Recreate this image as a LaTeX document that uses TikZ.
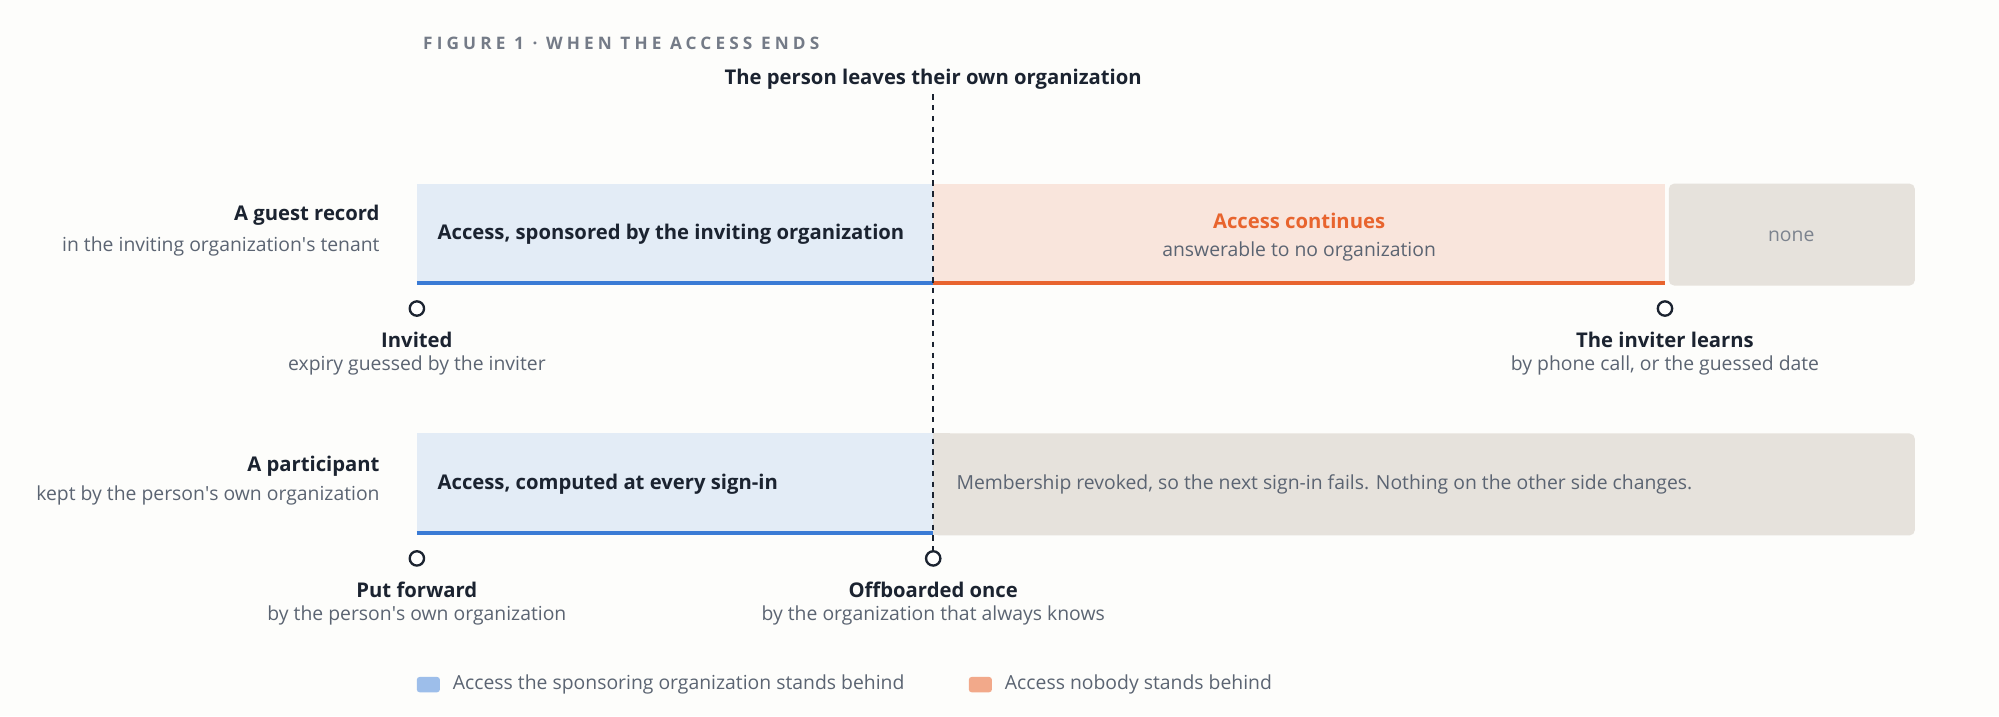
\documentclass[tikz,border=0pt]{standalone}
\usepackage{fontspec}
\setmainfont{Open Sans}
\definecolor{bgpaper}{HTML}{FDFDFB}
\definecolor{ink}{HTML}{1B2330}
\definecolor{subink}{HTML}{5B6472}
\definecolor{sponsorfill}{HTML}{E3ECF6}
\definecolor{sponsorline}{HTML}{3A7BD5}
\definecolor{orphanfill}{HTML}{F9E5DC}
\definecolor{orphanline}{HTML}{E8642E}
\definecolor{nonefill}{HTML}{E6E2DC}
\definecolor{legblue}{HTML}{9DBEEA}
\definecolor{legorange}{HTML}{F2A98A}
\newcommand{\apos}{\textquotesingle}
\begin{document}
\begin{tikzpicture}[x=0.025cm, y=-0.025cm,
        head/.style={font=\fontsize{11.3}{13}\selectfont\bfseries, text=ink, inner sep=0pt},
        sub/.style={font=\fontsize{10.8}{12}\selectfont, text=subink, inner sep=0pt},
        milestone/.style={circle, draw=ink, line width=1.3pt, fill=white, minimum size=8pt, inner sep=0pt}
    ]
        % Hintergrund
        \fill[bgpaper] (0,0) rectangle (1568,562);
        \node[anchor=west, font=\fontsize{9.6}{11}\selectfont\bfseries\addfontfeatures{LetterSpace=24}, text=subink!85] (title) at (327,34) {FIGURE 1 · WHEN THE ACCESS ENDS};

        % Zeile 1
        \fill[sponsorfill] (327,144) rectangle (732,223);
        \draw[sponsorline, line width=2.2pt] (327,222) -- (732,222);
        \fill[orphanfill] (732,144) rectangle (1306,223);
        \draw[orphanline, line width=2.2pt] (732,222) -- (1306,222);
        \fill[nonefill, rounded corners=3pt] (1309,144) rectangle (1502,224);
        \node[head, anchor=west] (guestbar) at (343,184) {Access, sponsored by the inviting organization};
        \node[head, text=orphanline] (cont) at (1019,173) {Access continues};
        \node[sub] (contsub) at (1019,197) {answerable to no organization};
        \node[sub, text=subink!80] (none) at (1405,185) {none};
        \node[head, anchor=east] (guest) at (298,169) {A guest record};
        \node[sub, anchor=east] (guestsub) at (298,193) {in the inviting organization\apos s tenant};

        % Zeile 2
        \fill[sponsorfill] (327,340) rectangle (732,419);
        \draw[sponsorline, line width=2.2pt] (327,418) -- (732,418);
        \fill[nonefill, rounded corners=3pt] (732,340) rectangle (1502,420);
        \fill[nonefill] (732,340) rectangle (745,420);
        \node[head, anchor=west] (partbar) at (343,380) {Access, computed at every sign-in};
        \node[sub, anchor=west] (revoked) at (750,380) {Membership revoked, so the next sign-in fails. Nothing on the other side changes.};
        \node[head, anchor=east] (part) at (298,366) {A participant};
        \node[sub, anchor=east] (partsub) at (298,389) {kept by the person\apos s own organization};

        % Trennlinie
        \coordinate (top) at (732,74);
        \node[milestone] (off) at (732,438) {};
        \draw[ink, dashed, line width=1pt] (top) -- (off);
        \node[head] (leaves) at (732,62) {The person leaves their own organization};

        % Marken
        \node[milestone] (inv) at (327,242) {};
        \node[milestone] (learn) at (1306,242) {};
        \node[milestone] (fwd) at (327,438) {};
        \node[head] (invl) at (327,267) {Invited};
        \node[sub] (invs) at (327,287) {expiry guessed by the inviter};
        \node[head] (learnl) at (1306,267) {The inviter learns};
        \node[sub] (learns) at (1306,287) {by phone call, or the guessed date};
        \node[head] (fwdl) at (327,463) {Put forward};
        \node[sub] (fwds) at (327,483) {by the person\apos s own organization};
        \node[head] (offl) at (732,463) {Offboarded once};
        \node[sub] (offs) at (732,483) {by the organization that always knows};

        % Legende
        \fill[legblue, rounded corners=1.5pt] (327,531) rectangle (345,543);
        \node[sub, anchor=west] (legb) at (355,537) {Access the sponsoring organization stands behind};
        \fill[legorange, rounded corners=1.5pt] (760,531) rectangle (778,543);
        \node[sub, anchor=west] (lego) at (788,537) {Access nobody stands behind};
    \end{tikzpicture}
\end{document}
